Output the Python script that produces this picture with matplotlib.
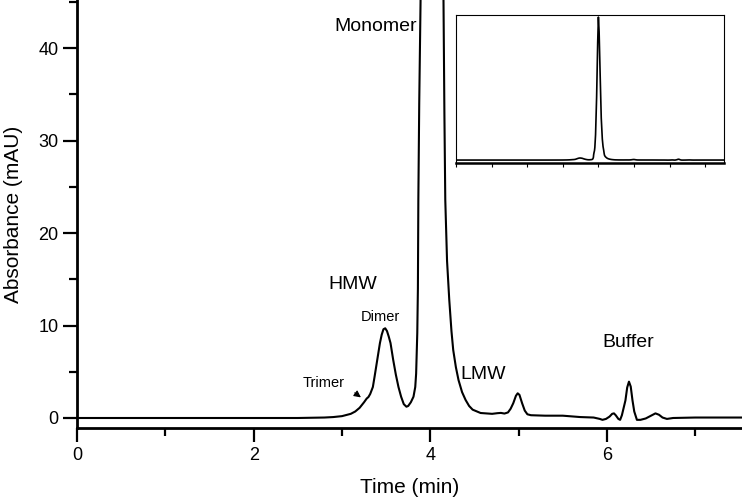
import numpy as np
import matplotlib.pyplot as plt
from matplotlib.ticker import MultipleLocator

plt.rcParams['font.family'] = ['Liberation Sans', 'DejaVu Sans']

# chromatogram (time in min, absorbance in mAU)
time = [0.0, 1.0, 2.0, 2.5, 2.8, 2.9, 3.0, 3.1, 3.15, 3.2, 3.25, 3.28, 3.30, 3.32,
        3.35, 3.37, 3.40, 3.43, 3.45, 3.47, 3.49, 3.51, 3.53, 3.55, 3.58, 3.61, 3.64,
        3.67, 3.70, 3.73, 3.75, 3.78, 3.81, 3.83, 3.84, 3.853, 3.86, 3.865, 3.875,
        3.89, 3.90, 3.92, 3.95, 3.98, 4.00, 4.02, 4.05, 4.08, 4.11, 4.13, 4.15, 4.16,
        4.17, 4.19, 4.215, 4.24, 4.26, 4.29, 4.32, 4.36, 4.40, 4.44, 4.48, 4.57, 4.70,
        4.76, 4.80, 4.84, 4.88, 4.91, 4.94, 4.97, 4.99, 5.01, 5.04, 5.07, 5.10, 5.14,
        5.30, 5.50, 5.70, 5.85, 5.92, 5.95, 5.99, 6.03, 6.06, 6.08, 6.10, 6.13, 6.15,
        6.17, 6.19, 6.21, 6.23, 6.25, 6.27, 6.29, 6.31, 6.34, 6.38, 6.44, 6.50, 6.55,
        6.59, 6.63, 6.68, 6.75, 7.0, 7.53]
absorb = [0.0, 0.0, 0.0, 0.0, 0.05, 0.1, 0.2, 0.45, 0.7, 1.1, 1.7, 2.1, 2.27, 2.6,
          3.35, 4.5, 6.3, 8.1, 9.0, 9.6, 9.7, 9.4, 8.8, 8.1, 6.3, 4.7, 3.35,
          2.3, 1.5, 1.22, 1.3, 1.7, 2.3, 3.35, 4.8, 9.2, 14, 23.6, 34,
          45, 60, 120, 300, 560, 680, 610, 400, 200, 100, 65, 45, 33,
          23.6, 17, 12.8, 9.4, 7.35, 5.5, 4.1, 2.8, 1.95, 1.3, 0.9, 0.54, 0.45,
          0.52, 0.55, 0.48, 0.6, 1.0, 1.6, 2.4, 2.67, 2.5, 1.6, 0.8, 0.4, 0.3,
          0.25, 0.25, 0.1, 0.05, -0.1, -0.2, -0.1, 0.15, 0.45, 0.5, 0.3, -0.1, -0.2,
          0.3, 1.1, 1.9, 3.3, 3.93, 3.4, 1.9, 0.7, -0.2, -0.2, -0.05, 0.25, 0.5,
          0.35, 0.05, -0.1, 0.0, 0.05, 0.05]

peak_labels = ['Monomer', 'HMW', 'Dimer', 'Trimer', 'LMW', 'Buffer']
label_x = [3.38, 3.12, 3.43, 2.79, 4.60, 6.24]
label_y = [42.3, 14.4, 10.9, 3.8, 4.75, 8.2]
label_size = [14, 14, 10.5, 10.5, 14, 14]

fig = plt.figure(figsize=(7.42, 4.98), dpi=100)
ax = fig.add_axes([0.1038, 0.1406, 0.8962, 0.8594])
ax.plot(time, absorb, color='black', lw=1.5, solid_joinstyle='round')
ax.set_xlim(0, 7.53)
ax.set_ylim(-1.08, 45.2)
ax.spines['top'].set_visible(False)
ax.spines['right'].set_visible(False)
for s in ['left', 'bottom']:
    ax.spines[s].set_linewidth(2)
ax.xaxis.set_major_locator(MultipleLocator(2))
ax.xaxis.set_minor_locator(MultipleLocator(1))
ax.yaxis.set_major_locator(MultipleLocator(10))
ax.yaxis.set_minor_locator(MultipleLocator(5))
ax.tick_params(which='major', direction='out', length=10, width=1.6, labelsize=13)
ax.tick_params(which='minor', direction='out', length=6, width=1.6)
ax.set_xlabel('Time (min)', fontsize=15, labelpad=10)
ax.set_ylabel('Absorbance (mAU)', fontsize=15, labelpad=11)

for txt, x, y, fs in zip(peak_labels, label_x, label_y, label_size):
    ax.text(x, y, txt, fontsize=fs, ha='center', va='center')
ax.annotate('', xy=(3.24, 2.05), xytext=(3.12, 2.9),
            arrowprops=dict(arrowstyle='-|>', color='black', lw=0.8, mutation_scale=10))

# inset with the full monomer peak
ins = fig.add_axes([0.6146, 0.6727, 0.3612, 0.2972])
ins.plot(time, absorb, color='black', lw=1.2, solid_joinstyle='round')
ins.set_xlim(0, 7.53)
ins.set_ylim(-14, 690)
ins.xaxis.set_major_locator(MultipleLocator(1))
ins.set_yticks([])
ins.tick_params(axis='x', direction='out', length=3, width=0.8, labelbottom=False)
for s in ['left', 'top', 'right']:
    ins.spines[s].set_linewidth(0.8)
ins.spines['bottom'].set_linewidth(1.8)

fig.savefig('out.png', dpi=100)
